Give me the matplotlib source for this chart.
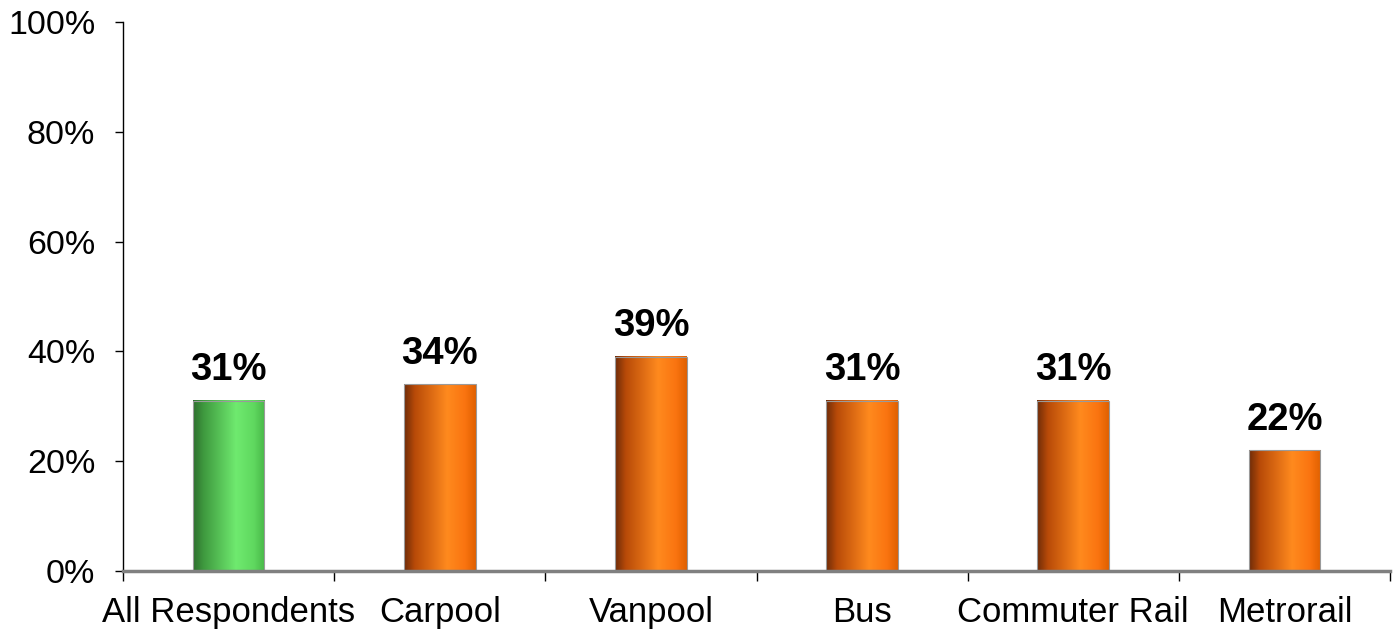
import numpy as np
import matplotlib
matplotlib.use("Agg")
import matplotlib.pyplot as plt
from matplotlib.colors import LinearSegmentedColormap

categories = ["All Respondents", "Carpool", "Vanpool", "Bus", "Commuter Rail", "Metrorail"]
values = [31, 34, 39, 31, 31, 22]
value_labels = ["31%", "34%", "39%", "31%", "31%", "22%"]
yticks = [0, 20, 40, 60, 80, 100]
ytick_labels = ["0%", "20%", "40%", "60%", "80%", "100%"]

plt.rcParams['font.family'] = ['Liberation Sans', 'DejaVu Sans']

green_cmap = LinearSegmentedColormap.from_list(
    "g", [(0, "#2f6f2f"), (0.15, "#3f9a3f"), (0.6, "#6fea6f"), (0.85, "#5fd85f"), (1, "#48b848")])
orange_cmap = LinearSegmentedColormap.from_list(
    "o", [(0, "#6e2c08"), (0.15, "#b84a08"), (0.6, "#ff8a1e"), (0.85, "#fa7410"), (1, "#e06000")])

fig = plt.figure(figsize=(13.94, 6.3), dpi=100)
ax = fig.add_axes([123/1394, 1-571/630, (1390-123)/1394, (571-22)/630])

x = np.arange(len(categories))
width = 0.34
grad = np.linspace(0, 1, 256).reshape(1, -1)
for i, v in enumerate(values):
    cmap = green_cmap if i == 0 else orange_cmap
    ax.imshow(grad, cmap=cmap, aspect='auto',
              extent=(x[i]-width/2, x[i]+width/2, 0, v), zorder=2)
    ax.add_patch(plt.Rectangle((x[i]-width/2, 0), width, v, fill=False,
                               edgecolor="#9a9a9a", linewidth=0.8, zorder=3))
    ax.annotate(value_labels[i], (x[i], v), xytext=(0, 9), textcoords='offset points',
                ha='center', va='bottom', fontsize=27.5, fontweight='bold', color='black')

ax.set_xlim(-0.5, len(categories)-0.5)
ax.set_ylim(0, 100)
ax.set_yticks(yticks)
ax.set_yticklabels(ytick_labels, fontsize=24.5)
ax.set_xticks(x)
ax.set_xticklabels(categories, fontsize=25)
ax.tick_params(axis='x', length=0, pad=18)
ax.set_xticks(np.arange(len(categories)+1) - 0.5, minor=True)
ax.tick_params(axis='x', which='minor', length=7, width=1, color='black')
ax.tick_params(axis='y', length=6, width=1, color='black', pad=14)

for s in ['top', 'right']:
    ax.spines[s].set_visible(False)
ax.spines['left'].set_color('black')
ax.spines['left'].set_linewidth(1)
ax.spines['bottom'].set_color('#808080')
ax.spines['bottom'].set_linewidth(2.5)
ax.spines['bottom'].set_zorder(4)

fig.savefig("out.png", dpi=100)
